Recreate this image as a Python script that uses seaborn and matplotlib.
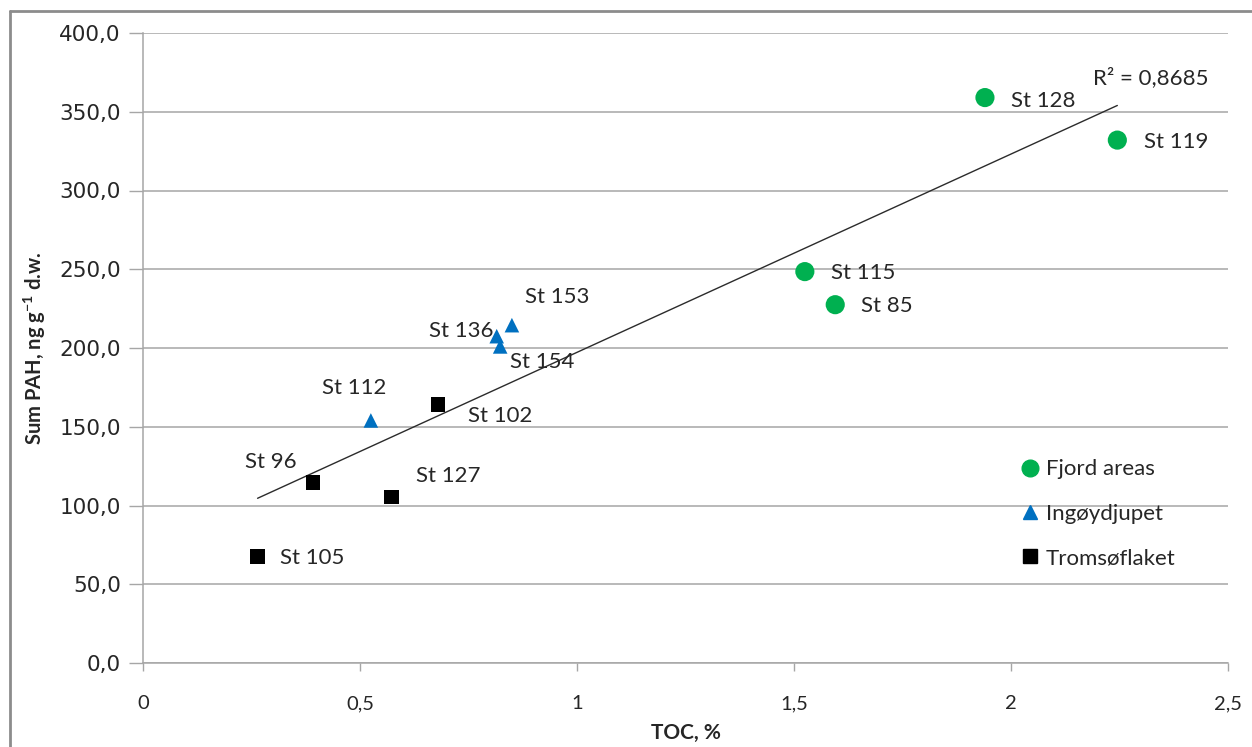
import numpy as np
import pandas as pd
import matplotlib
matplotlib.use("Agg")
import matplotlib.pyplot as plt
from matplotlib.lines import Line2D
import seaborn as sns

# Station data: TOC (%) and sum PAH (ng/g d.w.)
fjord_st = ["St 128", "St 119", "St 115", "St 85"]
fjord_toc = [1.94, 2.245, 1.525, 1.595]
fjord_pah = [359.0, 332.0, 248.5, 227.5]

ingoy_st = ["St 112", "St 136", "St 154", "St 153"]
ingoy_toc = [0.525, 0.815, 0.823, 0.850]
ingoy_pah = [154.0, 207.5, 201.0, 214.5]

troms_st = ["St 96", "St 127", "St 102", "St 105"]
troms_toc = [0.392, 0.573, 0.680, 0.264]
troms_pah = [114.5, 105.5, 164.0, 67.5]

groups = ["Fjord areas", "Ingøydjupet", "Tromsøflaket"]
colors = {"Fjord areas": "#00b050", "Ingøydjupet": "#0070c0", "Tromsøflaket": "#000000"}
markers = {"Fjord areas": "o", "Ingøydjupet": "^", "Tromsøflaket": "s"}
sizes = {"Fjord areas": 190, "Ingøydjupet": 110, "Tromsøflaket": 110}

df = pd.DataFrame({
    "station": fjord_st + ingoy_st + troms_st,
    "toc": fjord_toc + ingoy_toc + troms_toc,
    "pah": fjord_pah + ingoy_pah + troms_pah,
    "group": [groups[0]] * 4 + [groups[1]] * 4 + [groups[2]] * 4,
})

sns.set_style("white")
plt.rcParams["font.family"] = ["Lato", "DejaVu Sans"]

fig = plt.figure(figsize=(12.52, 7.47), dpi=100)
ax = fig.add_axes([143 / 1252, 1 - 663 / 747, (1228 - 143) / 1252, (663 - 33) / 747])

ax.set_xlim(0, 2.5)
ax.set_ylim(0, 400)
ax.set_yticks(np.arange(0, 401, 50))
ax.set_xticks([0, 0.5, 1, 1.5, 2, 2.5])
ax.yaxis.grid(True, color="#a6a6a6", linewidth=1.1)
ax.set_axisbelow(True)

# Linear trendline over all stations
sns.regplot(data=df, x="toc", y="pah", scatter=False, ci=None, truncate=True,
            line_kws={"color": "#2b2b2b", "linewidth": 1.0}, ax=ax)

for g in groups:
    sub = df[df["group"] == g]
    sns.scatterplot(data=sub, x="toc", y="pah", marker=markers[g], s=sizes[g],
                    color=colors[g], edgecolor="none", ax=ax, zorder=3, legend=False)

# Station labels (pixel offsets from each marker)
offsets = {
    "St 128": (26, -3, "left"), "St 119": (27, -2, "left"),
    "St 115": (26, -1, "left"), "St 85": (26, -1, "left"),
    "St 112": (-17, 32, "center"), "St 136": (-3, 5, "right"),
    "St 154": (10, -16, "left"), "St 153": (13, 28, "left"),
    "St 96": (-42, 21, "center"), "St 127": (24, 21, "left"),
    "St 102": (30, -11, "left"), "St 105": (22, -1, "left"),
}
for _, r in df.iterrows():
    dx, dy, ha = offsets[r["station"]]
    ax.annotate(r["station"], (r["toc"], r["pah"]), xytext=(dx, dy),
                textcoords="offset pixels", ha=ha, va="center",
                fontsize=16, color="#262626")

ax.text(2.19, 365, "R² = 0,8685", fontsize=16, color="#262626", ha="left", va="bottom")

# Axis formatting
ax.set_yticklabels([f"{v:.1f}".replace(".", ",") for v in np.arange(0, 401, 50)],
                   family="DejaVu Sans", fontsize=15.5, color="#262626")
ax.set_xticklabels(["0", "0,5", "1", "1,5", "2", "2,5"], fontsize=14.5, color="#262626")
ax.tick_params(axis="y", length=10, width=1, color="#a6a6a6", left=True, pad=6)
ax.tick_params(axis="x", length=6, width=1, color="#a6a6a6", bottom=True, pad=17)
for s in ["top", "right"]:
    ax.spines[s].set_visible(False)
for s in ["left", "bottom"]:
    ax.spines[s].set_color("#a6a6a6")
    ax.spines[s].set_linewidth(1.1)

ax.set_xlabel("TOC, %", fontsize=15, fontweight="bold", color="#262626", labelpad=8)
ax.set_ylabel(r"Sum PAH, ng g$^{\mathregular{-1}}$ d.w.", fontsize=14.5, fontweight="bold",
              color="#262626", labelpad=8)

handles = [Line2D([], [], linestyle="none", marker=markers[g], color=colors[g],
                  markersize=12 if g == groups[0] else 9.5) for g in groups]
ax.legend(handles, groups, frameon=False, fontsize=16, loc="upper left",
          bbox_to_anchor=(0.785, 0.355), handletextpad=0.0, labelspacing=1.1,
          handlelength=1.4, labelcolor="#262626")

# Outer chart frame
fig.add_artist(plt.Line2D([10 / 1252, 10 / 1252], [0, 1 - 11 / 747],
                          transform=fig.transFigure, color="#8c8c8c", linewidth=2))
fig.add_artist(plt.Line2D([10 / 1252, 1], [1 - 11 / 747, 1 - 11 / 747],
                          transform=fig.transFigure, color="#8c8c8c", linewidth=2))

fig.savefig("out.png", dpi=100)
